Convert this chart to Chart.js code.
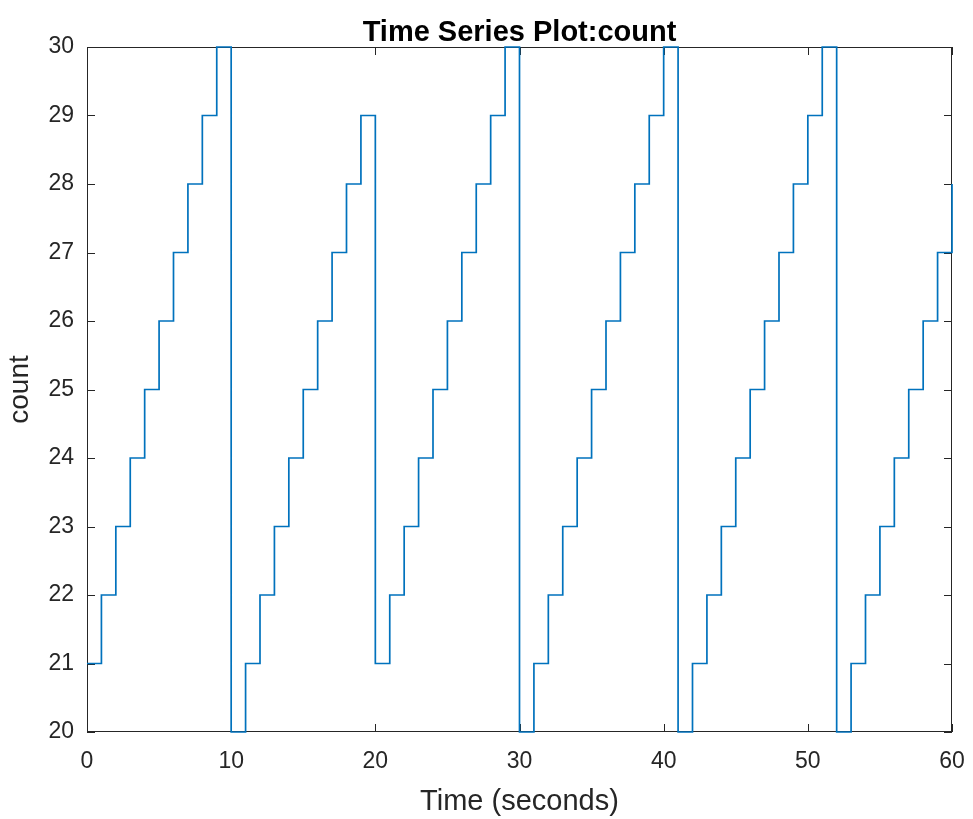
<!DOCTYPE html>
<html>
<head>
<meta charset="utf-8">
<script src="https://cdn.jsdelivr.net/npm/chart.js@4"></script>
<style>
    html, body { margin: 0; padding: 0; background: #fff; }
    #wrap { width: 973px; height: 819px; }
</style>
</head>
<body>
<div id="wrap"><canvas id="chart"></canvas></div>
<script>
// time in seconds and the count value held from that time on
const times = [0, 1, 2, 3, 4, 5, 6, 7, 8, 9,
    10, 11, 12, 13, 14, 15, 16, 17, 18, 19,
    20, 21, 22, 23, 24, 25, 26, 27, 28, 29,
    30, 31, 32, 33, 34, 35, 36, 37, 38, 39, 40,
    41, 42, 43, 44, 45, 46, 47, 48, 49, 50, 51,
    52, 53, 54, 55, 56, 57, 58, 59, 60];
const counts = [21, 22, 23, 24, 25, 26, 27, 28, 29, 30,
    20, 21, 22, 23, 24, 25, 26, 27, 28, 29,
    21, 22, 23, 24, 25, 26, 27, 28, 29, 30,
    20, 21, 22, 23, 24, 25, 26, 27, 28, 29, 30,
    20, 21, 22, 23, 24, 25, 26, 27, 28, 29, 30,
    20, 21, 22, 23, 24, 25, 26, 27, 28];
const xTicks = [0, 10, 20, 30, 40, 50, 60];
const yTicks = [20, 21, 22, 23, 24, 25, 26, 27, 28, 29, 30];

const axisColor = '#262626';
const fontFamily = "'Liberation Sans', Arial, Helvetica, sans-serif";

// matlab style box with inward ticks on all four sides, drawn under the line
const boxPlugin = {
    id: 'boxPlugin',
    beforeDatasetsDraw(chart) {
        const ctx = chart.ctx;
        const a = chart.chartArea;
        const xs = chart.scales.x;
        const ys = chart.scales.y;
        const len = 8;
        ctx.save();
        ctx.strokeStyle = axisColor;
        ctx.lineWidth = 1;
        ctx.strokeRect(a.left + 0.5, a.top + 0.5, a.right - a.left - 1, a.bottom - a.top - 1);
        ctx.beginPath();
        xTicks.forEach(v => {
            const px = Math.round(xs.getPixelForValue(v)) + 0.5;
            ctx.moveTo(px, a.bottom);
            ctx.lineTo(px, a.bottom - len);
            ctx.moveTo(px, a.top);
            ctx.lineTo(px, a.top + len);
        });
        yTicks.forEach(v => {
            const py = Math.round(ys.getPixelForValue(v)) + 0.5;
            ctx.moveTo(a.left, py);
            ctx.lineTo(a.left + len, py);
            ctx.moveTo(a.right, py);
            ctx.lineTo(a.right - len, py);
        });
        ctx.stroke();
        ctx.restore();
    }
};

const points = times.map((t, i) => ({ x: t, y: counts[i] }));

new Chart(document.getElementById('chart'), {
    type: 'line',
    data: {
        datasets: [{
            label: 'count',
            data: points,
            stepped: true,
            borderColor: '#0072BD',
            borderWidth: 1.7,
            pointRadius: 0,
            fill: false,
            clip: false
        }]
    },
    options: {
        responsive: true,
        maintainAspectRatio: false,
        animation: false,
        layout: {
            padding: { left: 0, right: 21, top: 0, bottom: 0 }
        },
        plugins: {
            legend: { display: false },
            tooltip: { enabled: false },
            title: {
                display: true,
                fullSize: false,
                text: 'Time Series Plot:count',
                color: '#000',
                font: { family: fontFamily, size: 29, weight: 'bold', lineHeight: 1 },
                padding: { top: 18, bottom: 0 }
            }
        },
        scales: {
            x: {
                type: 'linear',
                min: 0,
                max: 60,
                afterFit: scale => {
                    scale.height = 87;
                    scale.paddingLeft = 0;
                    scale.paddingRight = 0;
                },
                afterBuildTicks: scale => { scale.ticks = xTicks.map(v => ({ value: v })); },
                grid: { display: false, drawTicks: false, tickLength: 0 },
                border: { display: false },
                ticks: {
                    color: axisColor,
                    padding: 16,
                    maxRotation: 0,
                    font: { family: fontFamily, size: 23 }
                },
                title: {
                    display: true,
                    text: 'Time (seconds)',
                    color: axisColor,
                    font: { family: fontFamily, size: 29 },
                    padding: { top: 0, bottom: 0 }
                }
            },
            y: {
                type: 'linear',
                min: 20,
                max: 30,
                afterFit: scale => {
                    scale.width = 87;
                    scale.paddingTop = 0;
                    scale.paddingBottom = 0;
                },
                afterBuildTicks: scale => { scale.ticks = yTicks.map(v => ({ value: v })); },
                grid: { display: false, drawTicks: false, tickLength: 0 },
                border: { display: false },
                ticks: {
                    color: axisColor,
                    padding: 13,
                    font: { family: fontFamily, size: 23 }
                },
                title: {
                    display: true,
                    text: 'count',
                    color: axisColor,
                    font: { family: fontFamily, size: 28 },
                    padding: { top: 3, bottom: 0 }
                }
            }
        }
    },
    plugins: [boxPlugin]
});
</script>
</body>
</html>
